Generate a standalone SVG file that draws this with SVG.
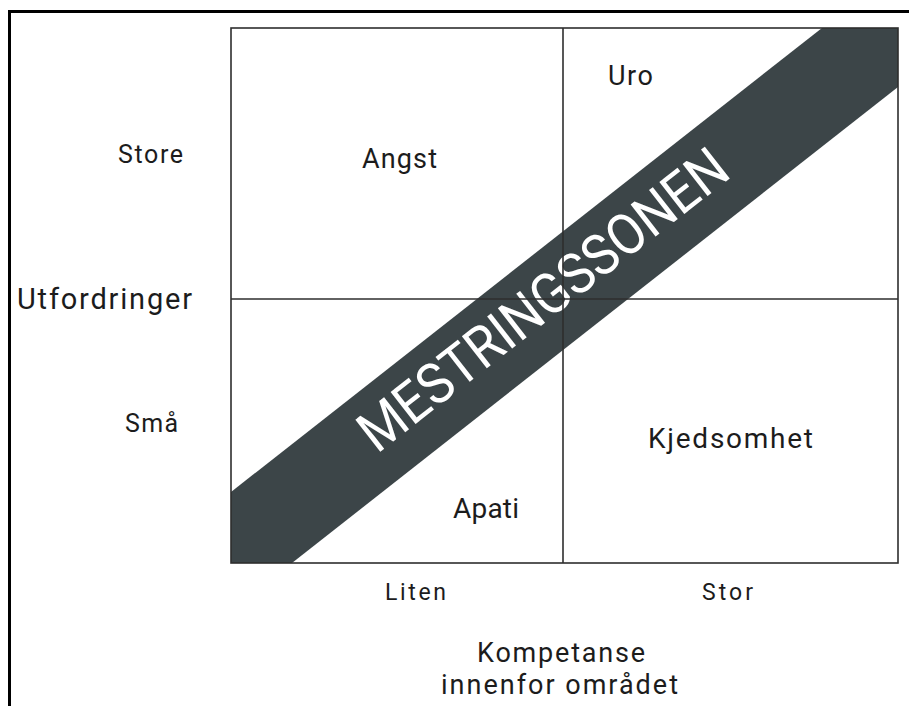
<svg xmlns="http://www.w3.org/2000/svg" width="909" height="706" viewBox="0 0 909 706">
  <style>
    .lbl { font-family: Roboto, "Liberation Sans", sans-serif; fill: #1c1c1c; }
    .grid { fill: none; stroke: #2e2e2e; stroke-width: 1.6; }
    .frame { fill: none; stroke: #000; stroke-width: 3; }
  </style>

  <rect width="909" height="706" fill="#ffffff"/>

  <!-- outer frame (top and left edges) -->
  <g id="frame">
    <path class="frame" d="M9.5,706 V11.5 H909"/>
  </g>

  <!-- diagonal band: the mastery zone -->
  <g id="band">
    <polygon points="231,492 822,28 898,28 898,87 292,563 231,563" fill="#3c4548"/>
    <text class="lbl" transform="translate(555,315) rotate(-38)" x="0" y="0" text-anchor="middle"
          font-size="57" style="fill:#ffffff" textLength="452" lengthAdjust="spacingAndGlyphs">MESTRINGSSONEN</text>
  </g>

  <!-- quadrant grid -->
  <g id="grid">
    <rect class="grid" x="231" y="28" width="667" height="535"/>
    <line class="grid" x1="563" y1="28" x2="563" y2="563"/>
    <line class="grid" x1="231" y1="299" x2="898" y2="299"/>
  </g>

  <!-- quadrant labels -->
  <g id="quadrant-angst"><text class="lbl" x="362" y="168" font-size="27" textLength="75">Angst</text></g>
  <g id="quadrant-uro"><text class="lbl" x="608" y="85" font-size="27" textLength="45">Uro</text></g>
  <g id="quadrant-kjedsomhet"><text class="lbl" x="648" y="448" font-size="28" textLength="165">Kjedsomhet</text></g>
  <g id="quadrant-apati"><text class="lbl" x="453" y="518" font-size="28" textLength="66">Apati</text></g>

  <!-- vertical axis -->
  <g id="axis-y">
    <text class="lbl" x="118" y="163" font-size="25" textLength="65">Store</text>
    <text class="lbl" x="17" y="309" font-size="29" textLength="175">Utfordringer</text>
    <text class="lbl" x="125" y="432" font-size="25" textLength="53">Små</text>
  </g>

  <!-- horizontal axis -->
  <g id="axis-x">
    <text class="lbl" x="385" y="600" font-size="23" textLength="61">Liten</text>
    <text class="lbl" x="702" y="600" font-size="23" textLength="51">Stor</text>
    <text class="lbl" x="477" y="662" font-size="27" textLength="168">Kompetanse</text>
    <text class="lbl" x="441" y="694" font-size="27" textLength="237">innenfor området</text>
  </g>
</svg>
